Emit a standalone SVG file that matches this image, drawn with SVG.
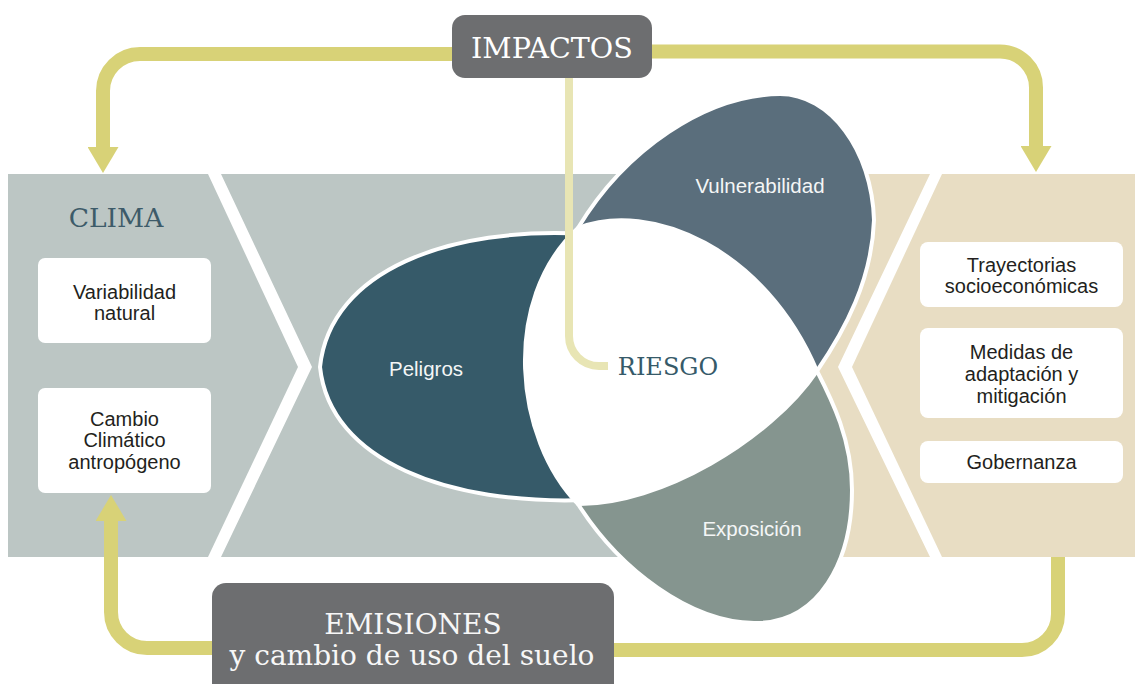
<svg xmlns="http://www.w3.org/2000/svg" width="1135" height="684" viewBox="0 0 1135 684">
<style>
.gray{fill:#BCC6C4}
.beige{fill:#E8DDC3}
.petal{stroke:#FFFFFF;stroke-width:4;stroke-linejoin:round}
.box{fill:#FFFFFF}
.dark{fill:#6D6E70}
.conn{fill:none;stroke:#D8D277;stroke-width:14}
.pale{fill:none;stroke:#E8E5B4;stroke-width:8}
.sans{font-family:"Liberation Sans",Arial,sans-serif;font-size:20px;fill:#231F20;text-anchor:middle}
.plabel{font-family:"Liberation Sans",Arial,sans-serif;font-size:20.5px;fill:#F4F6F6;text-anchor:middle}
.slab{font-family:"DejaVu Serif","Liberation Serif",serif;text-anchor:middle}
</style>
<defs>
<marker id="arrow" viewBox="0 0 26 31" refX="0" refY="15.5" markerWidth="26" markerHeight="31" markerUnits="userSpaceOnUse" orient="auto">
<path d="M0,0 L26,15.5 L0,31 Z" fill="#D8D277"/>
</marker>
</defs>
<rect width="1135" height="684" fill="#FFFFFF"/>

<g id="panel-clima">
<polygon class="gray" points="8,174 208,174 298,367 208,557 8,557"/>
<text class="slab" x="116" y="227" font-size="26.5" fill="#3D5B69">CLIMA</text>
</g>
<g id="panel-center">
<polygon class="gray" points="221,174 720,174 720,557 221,557 312,367"/>
</g>
<g id="panel-right">
<polygon class="beige" points="720,174 930,174 838,367 930,557 720,557"/>
<polygon class="beige" points="942,174 1135,174 1135,557 942,557 852,367"/>
</g>

<g id="petal-peligros">
<path class="petal" fill="#365A69" d="M586,234 C450,226 330,270 320,367 C330,462 450,505 586,500 Z"/>
<text class="plabel" x="426" y="376">Peligros</text>
</g>
<g id="petal-vulnerabilidad">
<path class="petal" fill="#5A6E7C" d="M578,228 C625,150 705,95 780,94 C830,94 872,150 874,220 C872,280 845,330 817,371 Z"/>
<text class="plabel" x="760" y="193">Vulnerabilidad</text>
</g>
<g id="petal-exposicion">
<path class="petal" fill="#85958F" d="M578,504 C620,570 690,622 754,623 C820,624 852,560 852,490 C852,440 832,400 817,371 Z"/>
<text class="plabel" x="752" y="536">Exposición</text>
</g>
<g id="riesgo">
<path fill="#FFFFFF" stroke="#FFFFFF" stroke-width="4" stroke-linejoin="round" d="M578,228 C650,200 765,248 817,371 C770,440 660,505 578,504 C515,440 500,300 578,228 Z"/>
</g>

<g id="connectors">
<path class="conn" d="M452,54 H140 A37,37 0 0 0 103,91 V147" marker-end="url(#arrow)"/>
<path class="conn" d="M652,51.5 H1000 A36,36 0 0 1 1036,87.5 V146" marker-end="url(#arrow)"/>
<path class="conn" d="M212,648 H147 A36,36 0 0 1 111,612 V521" marker-end="url(#arrow)"/>
<path class="conn" d="M614,650 H1022 A36,36 0 0 0 1058,614 V557"/>
<path class="pale" d="M569,78 V336 A30,30 0 0 0 599,366 H608"/>
</g>

<g id="riesgo-label">
<text class="slab" x="668" y="375" font-size="24" fill="#365A69">RIESGO</text>
</g>

<g id="impactos">
<rect class="dark" x="452" y="15" width="200" height="63" rx="13"/>
<text class="slab" x="552" y="58" font-size="28.6" fill="#FFFFFF">IMPACTOS</text>
</g>
<g id="emisiones">
<rect class="dark" x="212" y="583" width="402" height="120" rx="14"/>
<text class="slab" x="413" y="634" font-size="28" fill="#F7F7F7">EMISIONES</text>
<text class="slab" x="412" y="665" font-size="28" fill="#F7F7F7">y cambio de uso del suelo</text>
</g>

<g id="box-variabilidad">
<rect class="box" x="38" y="258" width="173" height="85" rx="7"/>
<text class="sans" x="124.5" y="299">Variabilidad</text>
<text class="sans" x="124.5" y="320">natural</text>
</g>
<g id="box-cambio">
<rect class="box" x="38" y="388" width="173" height="105" rx="7"/>
<text class="sans" x="124.5" y="426">Cambio</text>
<text class="sans" x="124.5" y="447">Climático</text>
<text class="sans" x="124.5" y="469">antropógeno</text>
</g>
<g id="box-trayectorias">
<rect class="box" x="920" y="242" width="203" height="65" rx="8"/>
<text class="sans" x="1021.5" y="272">Trayectorias</text>
<text class="sans" x="1021.5" y="293">socioeconómicas</text>
</g>
<g id="box-medidas">
<rect class="box" x="920" y="328" width="203" height="90" rx="8"/>
<text class="sans" x="1021.5" y="359">Medidas de</text>
<text class="sans" x="1021.5" y="381">adaptación y</text>
<text class="sans" x="1021.5" y="403">mitigación</text>
</g>
<g id="box-gobernanza">
<rect class="box" x="920" y="441" width="203" height="42" rx="8"/>
<text class="sans" x="1021.5" y="469">Gobernanza</text>
</g>
</svg>
